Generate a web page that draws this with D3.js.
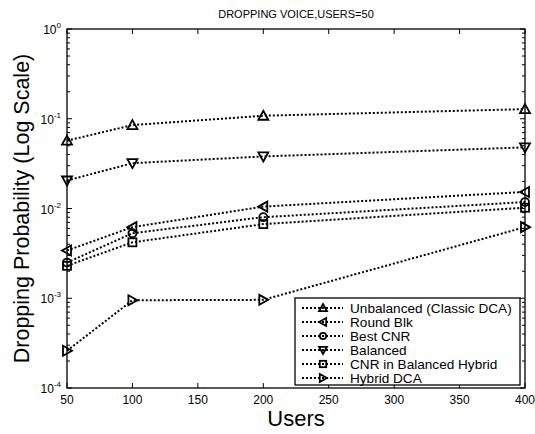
<!DOCTYPE html>
<html>
<head>
<meta charset="utf-8">
<script src="https://cdn.jsdelivr.net/npm/d3@7"></script>
<style>
  body { margin: 0; background: #fff; }
  svg text { font-family: "Liberation Sans", Arial, sans-serif; fill: #000; }
</style>
</head>
<body>
<svg id="chart" width="535" height="434"></svg>
<script>
// data
var users = [50, 100, 200, 400];
var unbalanced = [0.057, 0.085, 0.108, 0.128];
var roundBlk = [0.0034, 0.0062, 0.0105, 0.0153];
var bestCnr = [0.0025, 0.0053, 0.0080, 0.0118];
var balanced = [0.0205, 0.032, 0.038, 0.048];
var cnrHybrid = [0.0023, 0.0042, 0.0067, 0.0102];
var hybridDca = [0.00026, 0.00095, 0.00096, 0.0062];
var seriesNames = ["Unbalanced (Classic DCA)", "Round Blk", "Best CNR", "Balanced", "CNR in Balanced Hybrid", "Hybrid DCA"];
var seriesMarkers = ["up", "left", "circle", "down", "square", "right"];
var xTicks = [50, 100, 150, 200, 250, 300, 350, 400];
var yDecades = [-4, -3, -2, -1, 0];

var allSeries = [unbalanced, roundBlk, bestCnr, balanced, cnrHybrid, hybridDca];

var svg = d3.select("#chart");
var pLeft = 67, pRight = 525, pTop = 29, pBottom = 388;

var x = d3.scaleLinear().domain([50, 400]).range([pLeft, pRight]);
var y = d3.scaleLog().domain([1e-4, 1]).range([pBottom, pTop]);

// title
svg.append("text").attr("x", (pLeft + pRight) / 2).attr("y", 18)
  .attr("text-anchor", "middle").attr("font-size", 11).text("DROPPING VOICE,USERS=50");

// frame
svg.append("rect").attr("x", pLeft).attr("y", pTop).attr("width", pRight - pLeft).attr("height", pBottom - pTop)
  .attr("fill", "none").attr("stroke", "#000").attr("stroke-width", 1.3);

// x ticks (inward, bottom and top)
var tickG = svg.append("g").attr("stroke", "#000").attr("stroke-width", 1);
xTicks.forEach(function(t) {
  var px = x(t);
  tickG.append("line").attr("x1", px).attr("x2", px).attr("y1", pBottom).attr("y2", pBottom - 5);
  tickG.append("line").attr("x1", px).attr("x2", px).attr("y1", pTop).attr("y2", pTop + 5);
  svg.append("text").attr("x", px).attr("y", pBottom + 16).attr("text-anchor", "middle")
    .attr("font-size", 12).text(t);
});

// y ticks: major + minor log ticks
yDecades.forEach(function(e) {
  var v = Math.pow(10, e);
  var py = y(v);
  tickG.append("line").attr("x1", pLeft).attr("x2", pLeft + 5).attr("y1", py).attr("y2", py);
  tickG.append("line").attr("x1", pRight).attr("x2", pRight - 5).attr("y1", py).attr("y2", py);
  var lbl = svg.append("text").attr("x", pLeft - 6).attr("y", py + 5).attr("text-anchor", "end").attr("font-size", 12);
  lbl.append("tspan").text("10");
  lbl.append("tspan").attr("dy", -6).attr("font-size", 8).text(e);
  if (e < 0) {
    for (var m = 2; m <= 9; m++) {
      var pm = y(m * v);
      tickG.append("line").attr("x1", pLeft).attr("x2", pLeft + 3).attr("y1", pm).attr("y2", pm);
      tickG.append("line").attr("x1", pRight).attr("x2", pRight - 3).attr("y1", pm).attr("y2", pm);
    }
  }
});

// axis labels
svg.append("text").attr("x", (pLeft + pRight) / 2).attr("y", 426).attr("text-anchor", "middle")
  .attr("font-size", 22).text("Users");
svg.append("text").attr("transform", "translate(29," + ((pTop + pBottom) / 2) + ") rotate(-90)")
  .attr("text-anchor", "middle").attr("font-size", 21.5).text("Dropping Probability (Log Scale)");

function drawMarker(g, kind, cx, cy, s) {
  var path;
  if (kind === "up") path = "M" + cx + "," + (cy - s) + "L" + (cx + s) + "," + (cy + s * 0.8) + "L" + (cx - s) + "," + (cy + s * 0.8) + "Z";
  else if (kind === "down") path = "M" + cx + "," + (cy + s) + "L" + (cx + s) + "," + (cy - s * 0.8) + "L" + (cx - s) + "," + (cy - s * 0.8) + "Z";
  else if (kind === "left") path = "M" + (cx - s) + "," + cy + "L" + (cx + s * 0.8) + "," + (cy - s) + "L" + (cx + s * 0.8) + "," + (cy + s) + "Z";
  else if (kind === "right") path = "M" + (cx + s) + "," + cy + "L" + (cx - s * 0.8) + "," + (cy - s) + "L" + (cx - s * 0.8) + "," + (cy + s) + "Z";
  if (path) {
    g.append("path").attr("d", path).attr("fill", "none").attr("stroke", "#000").attr("stroke-width", 1.8);
  } else if (kind === "circle") {
    g.append("circle").attr("cx", cx).attr("cy", cy).attr("r", s * 0.8).attr("fill", "none").attr("stroke", "#000").attr("stroke-width", 1.8);
  } else if (kind === "square") {
    g.append("rect").attr("x", cx - s * 0.8).attr("y", cy - s * 0.8).attr("width", s * 1.6).attr("height", s * 1.6).attr("fill", "none").attr("stroke", "#000").attr("stroke-width", 1.8);
  }
}

var line = d3.line().x(function(d) { return x(d[0]); }).y(function(d) { return y(d[1]); });

allSeries.forEach(function(vals, i) {
  var pts = users.map(function(u, j) { return [u, vals[j]]; });
  var g = svg.append("g");
  g.append("path").attr("d", line(pts)).attr("fill", "none").attr("stroke", "#000")
    .attr("stroke-width", 2).attr("stroke-dasharray", "2,2");
  pts.forEach(function(p) { drawMarker(g, seriesMarkers[i], x(p[0]), y(p[1]), 5); });
});

// legend
var lg = svg.append("g");
var lx = 295, ly = 298, lw = 225, lh = 87;
lg.append("rect").attr("x", lx).attr("y", ly).attr("width", lw).attr("height", lh)
  .attr("fill", "#fff").attr("stroke", "#000").attr("stroke-width", 1.3);
seriesNames.forEach(function(name, i) {
  var ry = ly + 10 + i * 14;
  lg.append("line").attr("x1", lx + 7).attr("x2", lx + 48).attr("y1", ry).attr("y2", ry)
    .attr("stroke", "#000").attr("stroke-width", 2).attr("stroke-dasharray", "2,2");
  drawMarker(lg, seriesMarkers[i], lx + 28, ry, 4);
  lg.append("text").attr("x", lx + 55).attr("y", ry + 5).attr("font-size", 13.6).text(name);
});
</script>
</body>
</html>
